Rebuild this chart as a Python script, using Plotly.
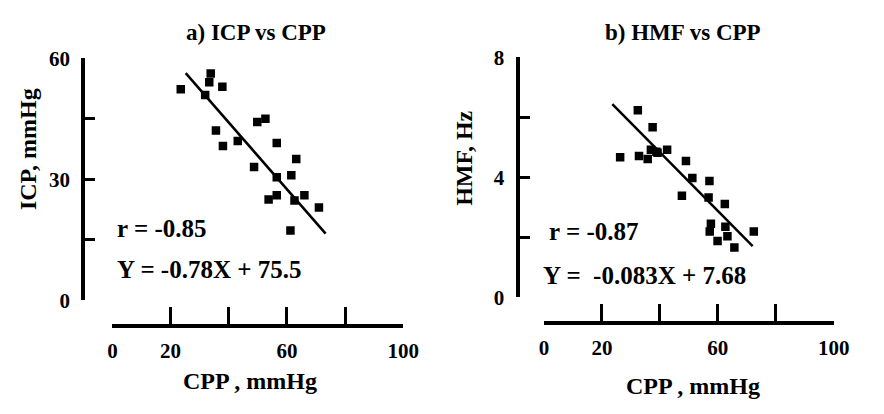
import plotly.graph_objects as go

W, H = 884, 414

# ---- data ----
cpp_a = [23.5, 33.8, 33.3, 37.8, 31.9, 35.6, 38.0, 43.1, 49.8, 52.6, 48.7,
         56.5, 56.5, 53.7, 56.5, 61.5, 63.2, 62.6, 66.0, 71.0, 61.2]
icp_a = [52.3, 56.2, 54.0, 52.9, 50.9, 42.1, 38.2, 39.5, 44.2, 45.0, 33.0,
         39.0, 30.5, 25.0, 26.0, 31.0, 35.0, 24.7, 26.0, 23.0, 17.3]
fit_a_x = [25.2, 73.3]
fit_a_y = [56.3, 16.5]

cpp_b = [32.4, 37.5, 26.3, 32.8, 35.8, 36.9, 39.2, 42.5, 49.0, 51.2, 47.6,
         57.1, 56.8, 62.4, 57.6, 57.2, 62.6, 59.9, 63.3, 65.7, 72.4, 38.8]
hmf_b = [6.23, 5.67, 4.67, 4.71, 4.61, 4.92, 4.82, 4.92, 4.54, 3.98, 3.39,
         3.88, 3.33, 3.11, 2.45, 2.20, 2.35, 1.88, 2.04, 1.66, 2.20, 4.85]
fit_b_x = [23.6, 72.0]
fit_b_y = [6.44, 1.71]

x_ticks = [0, 20, 40, 60, 80, 100]
x_ticktext = ["0", "20", "", "60", "", "100"]
ya_ticks = [0, 15, 30, 45, 60]
ya_ticktext = ["0", "", "30", "", "60"]
yb_ticks = [0, 2, 4, 6, 8]
yb_ticktext = ["0", "", "4", "", "8"]

FONT = "Liberation Serif"
TICKFONT = dict(family=FONT, size=21, color="black", weight="bold")


def px(x):
    return x / W


def py(y):
    return 1 - y / H


fig = go.Figure()

mk = dict(symbol="square", size=8.5, color="black")
fig.add_trace(go.Scatter(x=cpp_a, y=icp_a, mode="markers", marker=mk,
                         xaxis="x", yaxis="y", showlegend=False))
fig.add_trace(go.Scatter(x=fit_a_x, y=fit_a_y, mode="lines",
                         line=dict(color="black", width=2.5),
                         xaxis="x", yaxis="y", showlegend=False))
fig.add_trace(go.Scatter(x=cpp_b, y=hmf_b, mode="markers", marker=mk,
                         xaxis="x2", yaxis="y2", showlegend=False))
fig.add_trace(go.Scatter(x=fit_b_x, y=fit_b_y, mode="lines",
                         line=dict(color="black", width=2.5),
                         xaxis="x2", yaxis="y2", showlegend=False))

common = dict(showgrid=False, zeroline=False, ticks="inside",
              tickcolor="black", tickwidth=3, tickfont=TICKFONT,
              tickmode="array", fixedrange=True,
              showline=True, linecolor="black", linewidth=4)

xa_dom = [px(110), px(408)]
ya_dom = [py(306), py(49)]
xb_dom = [px(552), px(849)]
yb_dom = [py(303), py(48)]

fig.update_layout(
    xaxis=dict(domain=xa_dom, range=[0, 100], anchor="free", position=py(333),
               tickvals=x_ticks, ticktext=x_ticktext, ticklen=17,
               ticklabelstandoff=5, **common),
    yaxis=dict(domain=ya_dom, range=[0, 60], anchor="free", position=px(80),
               tickvals=ya_ticks, ticktext=ya_ticktext, ticklen=10,
               ticklabelstandoff=7, **common),
    xaxis2=dict(domain=xb_dom, range=[0, 100], anchor="free", position=py(330),
                tickvals=x_ticks, ticktext=x_ticktext, ticklen=17,
                ticklabelstandoff=5, **common),
    yaxis2=dict(domain=yb_dom, range=[0, 8], anchor="free", position=px(525),
                tickvals=yb_ticks, ticktext=yb_ticktext, ticklen=10,
                ticklabelstandoff=7, **common),
)


def note(text, x, y, size, xanchor="center", angle=0):
    fig.add_annotation(text=text, x=px(x), y=py(y), xref="paper", yref="paper",
                       xanchor=xanchor, yanchor="middle", showarrow=False,
                       textangle=angle,
                       font=dict(family=FONT, size=size, color="black",
                                 weight="bold"))


note("a) ICP vs CPP", 257, 22, 23)
note("b) HMF vs CPP", 695, 22, 23)
note("CPP , mmHg", 251, 392, 24)
note("CPP , mmHg", 705, 397, 24)
note("ICP, mmHg", 23, 145, 24, angle=-90)
note("HMF, Hz", 470, 155, 24, angle=-90)
note("r = -0.85", 113, 230, 25, xanchor="left")
note("Y = -0.78X + 75.5", 113, 273, 25, xanchor="left")
note("r = -0.87", 555, 233, 25, xanchor="left")
note("Y =&nbsp; -0.083X + 7.68", 549, 280, 25, xanchor="left")

fig.update_layout(width=W, height=H, margin=dict(l=0, r=0, t=0, b=0),
                  paper_bgcolor="white", plot_bgcolor="white",
                  showlegend=False)

fig.write_html("out.html")
